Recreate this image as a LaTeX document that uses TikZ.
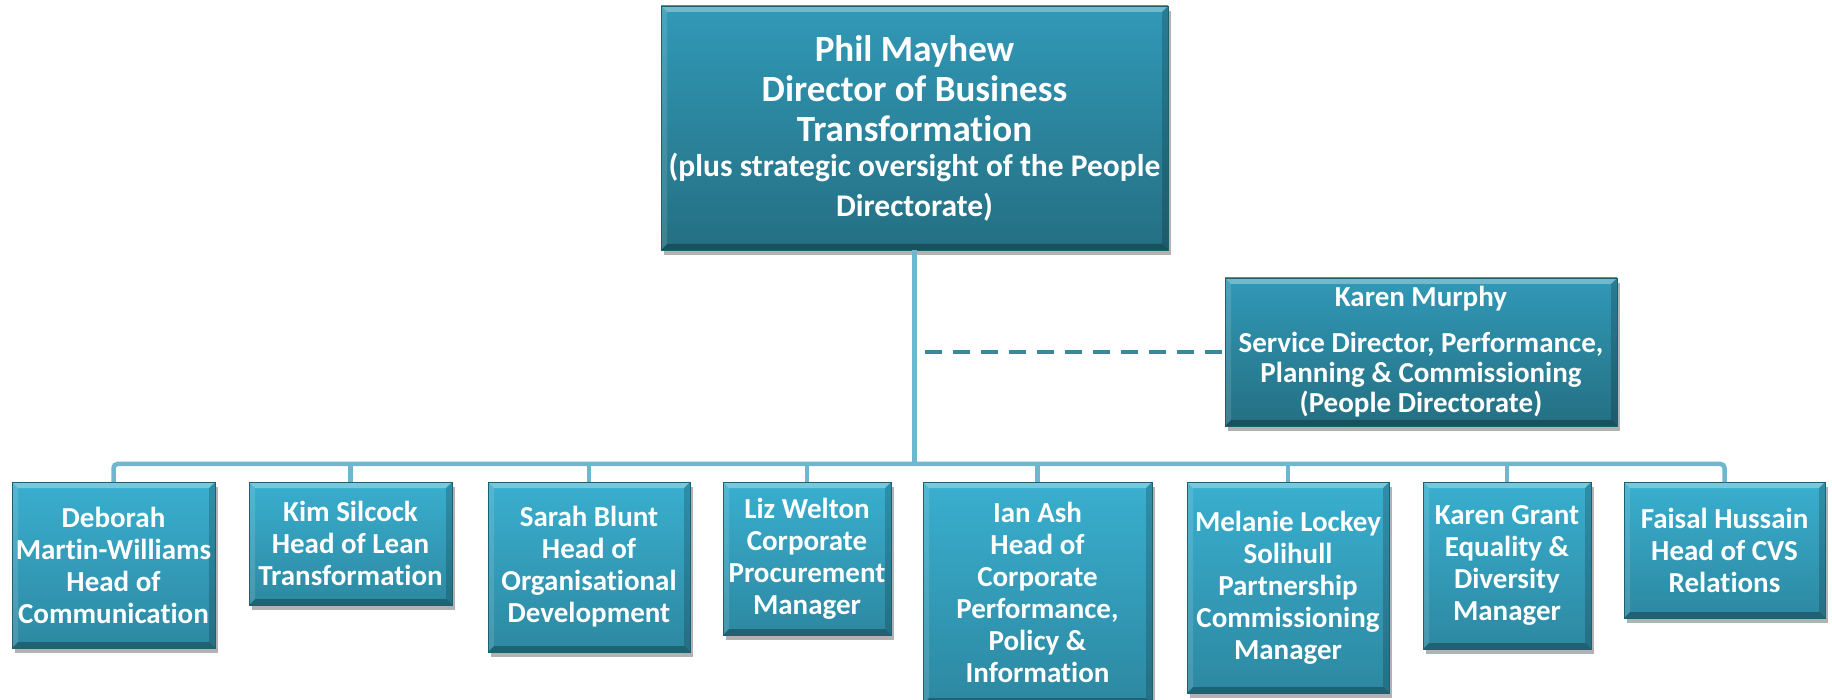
\documentclass[tikz,border=0pt]{standalone}
\usepackage{fontspec}
\setmainfont{Carlito}[Ligatures=NoCommon]
\usetikzlibrary{shadows}
\newcommand\tiNoLig{t\kern0pt i}
\definecolor{btop}{HTML}{39AFCF}
\definecolor{bbot}{HTML}{2D88A1}
\definecolor{ttop}{HTML}{3199B7}
\definecolor{tbot}{HTML}{246F82}
\definecolor{bedge}{HTML}{1E5F70}
\definecolor{conn}{HTML}{6FB7CE}
\definecolor{dconn}{HTML}{3A889C}
\tikzset{
  bevel/.style={path picture={
    \fill[white,opacity=0.32] (path picture bounding box.north west) -- (path picture bounding box.north east)
      -- ([shift={(-6pt,-6pt)}]path picture bounding box.north east) -- ([shift={(6pt,-6pt)}]path picture bounding box.north west) -- cycle;
    \fill[white,opacity=0.12] (path picture bounding box.north west) -- ([shift={(6pt,-6pt)}]path picture bounding box.north west)
      -- ([shift={(6pt,6pt)}]path picture bounding box.south west) -- (path picture bounding box.south west) -- cycle;
    \fill[black,opacity=0.28] (path picture bounding box.south west) -- (path picture bounding box.south east)
      -- ([shift={(-6pt,6pt)}]path picture bounding box.south east) -- ([shift={(6pt,6pt)}]path picture bounding box.south west) -- cycle;
    \fill[black,opacity=0.18] (path picture bounding box.north east) -- ([shift={(-6pt,-6pt)}]path picture bounding box.north east)
      -- ([shift={(-6pt,6pt)}]path picture bounding box.south east) -- (path picture bounding box.south east) -- cycle;
  }},
  basebox/.style={rectangle, draw=bedge, line width=0.8pt, text=white, align=flush center,
    inner sep=0pt, outer sep=0pt, anchor=north west, bevel,
    drop shadow={shadow xshift=3pt, shadow yshift=-5pt, fill=black, opacity=0.3}},
  lowbox/.style={basebox, top color=btop, bottom color=bbot,
    font=\fontsize{29}{32}\selectfont\bfseries},
  highbox/.style={basebox, top color=ttop, bottom color=tbot},
  connline/.style={draw=conn, line width=4.5pt},
  dashline/.style={draw=dconn, line width=4.5pt, dash pattern=on 17pt off 11pt}
}
\begin{document}
\begin{tikzpicture}[x=1pt,y=-1pt]
\useasboundingbox (0,0) rectangle (1832,700);
% top box
\node[highbox, minimum width=507pt, minimum height=244pt, text width=505pt,
  font=\fontsize{37}{40}\selectfont\bfseries] (top) at (661,6)
  {Phil Mayhew\\Director of Business\\Transforma\tiNoLig on\par
   \fontsize{31.5}{35}\selectfont (plus strategic oversight of the People\\Directorate)};
% side box
\node[highbox, minimum width=392pt, minimum height=148pt, text width=388pt,
  font=\fontsize{29}{30}\selectfont\bfseries] (km) at (1225,278)
  {Karen Murphy\par\vspace{16pt}Service Director, Performance,\\Planning \& Commissioning\\(People Directorate)};
% bottom row
\node[lowbox, minimum width=203pt, minimum height=166pt, text width=201pt] (deb) at (12,482)
  {Deborah\\Martin-Williams\\Head of\\Communica\tiNoLig on};
\node[lowbox, minimum width=203pt, minimum height=123pt, text width=201pt] (kim) at (249,482)
  {Kim Silcock\\Head of Lean\\Transforma\tiNoLig on};
\node[lowbox, minimum width=202pt, minimum height=170pt, text width=200pt] (sar) at (488,482)
  {Sarah Blunt\\Head of\\Organisa\tiNoLig onal\\Development};
\node[lowbox, minimum width=168pt, minimum height=153pt, text width=166pt] (liz) at (723,482)
  {Liz Welton\\Corporate\\Procurement\\Manager};
\node[lowbox, minimum width=229pt, minimum height=222pt, text width=227pt] (ian) at (923,482)
  {Ian Ash\\Head of\\Corporate\\Performance,\\Policy \&\\Informa\tiNoLig on\par\vspace{2pt}};
\node[lowbox, minimum width=202pt, minimum height=211pt, text width=200pt] (mel) at (1187,482)
  {Melanie Lockey\\Solihull\\Partnership\\Commissioning\\Manager};
\node[lowbox, minimum width=168pt, minimum height=167pt, text width=166pt] (kgr) at (1423,482)
  {Karen Grant\\Equality \&\\Diversity\\Manager};
\node[lowbox, minimum width=201pt, minimum height=136pt, text width=199pt] (fai) at (1624,482)
  {Faisal Hussain\\Head of CVS\\Rela\tiNoLig ons};
% connectors
\coordinate (bus) at (0,464);
\draw[connline] (top.south) -- (top.south |- bus);
\draw[connline, rounded corners=4pt] (deb.north) -- (deb.north |- bus) -- (fai.north |- bus) -- (fai.north);
\foreach \n in {kim,sar,liz,ian,mel,kgr}
  \draw[connline] (\n.north |- bus) -- (\n.north);
\draw[dashline] ([xshift=10pt]top.south |- km.west) -- (km.west);
\end{tikzpicture}
\end{document}
